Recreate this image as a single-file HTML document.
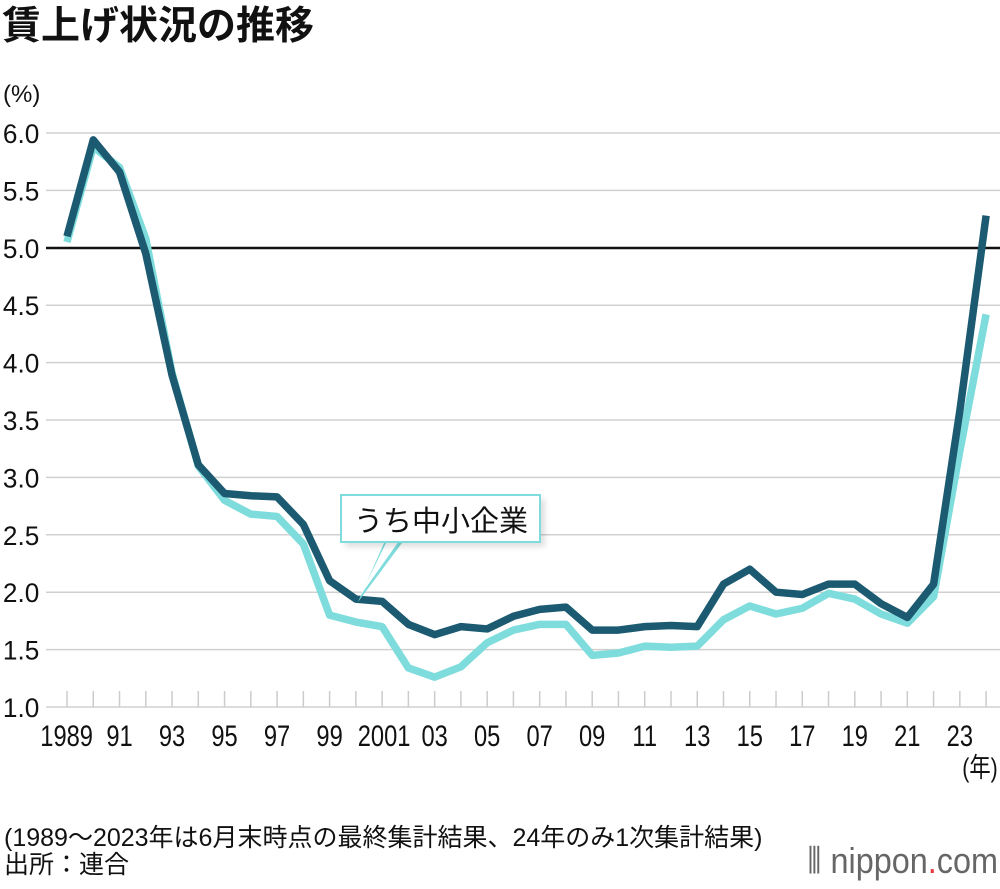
<!DOCTYPE html><html><head><meta charset="utf-8"><style>
body{margin:0;background:#fff;font-family:"Liberation Sans","Noto Sans CJK JP",sans-serif}
</style></head><body>
<svg width="1000" height="884" xmlns="http://www.w3.org/2000/svg" font-family="Liberation Sans, Noto Sans CJK JP, sans-serif">
<defs><filter id="b"><feGaussianBlur stdDeviation="3"/></filter></defs>
<text x="2" y="39" font-size="39" font-weight="bold" fill="#111">賃上げ状況の推移</text>
<text x="3" y="102" font-size="24" fill="#111">(%)</text>
<g id="grid" stroke="#d0d0d0" stroke-width="1.5"></g>
<g id="ylab" font-size="27" fill="#111"></g>
<g id="xt" stroke="#ccc" stroke-width="1.5"></g>
<line x1="46" y1="248" x2="1000" y2="248" stroke="#111" stroke-width="2.5"/>
<polyline id="lt" fill="none" stroke="#7fdcdc" stroke-width="7.5" stroke-linejoin="round"/>
<polyline id="dk" fill="none" stroke="#1b5a70" stroke-width="7.5" stroke-linejoin="round"/>
<g font-size="30" fill="#111" transform="scale(0.79,1)">
<text x="51" y="746">1989</text>
<text x="1263" y="777" text-anchor="end" font-size="27">(年)</text>
</g>
<g id="xlab" font-size="30" fill="#111" text-anchor="middle"></g>
<polygon points="384,543 402,543 358,602" fill="#7fdcdc"/>
<polygon points="387,541 399,541 360,596" fill="#fff"/>
<rect x="345" y="499" width="200" height="48" fill="#000" opacity="0.12" filter="url(#b)"/>
<rect x="341" y="495" width="199" height="47" fill="#fff" stroke="#7fdcdc" stroke-width="2"/>
<text x="441" y="531" font-size="29" text-anchor="middle" fill="#111">うち中小企業</text>
<g font-size="25" fill="#111">
<text x="4" y="846">(1989〜2023年は6月末時点の最終集計結果、24年のみ1次集計結果)</text>
<text x="4" y="873">出所：連合</text>
</g>
<text x="998" y="873" font-size="36" text-anchor="end" fill="#666" transform="translate(998,0) scale(0.9,1) translate(-998,0)">⦀ nippon<tspan fill="#e8383d">.</tspan>com</text>
</svg>
<script>
var ns="http://www.w3.org/2000/svg";
function Y(v){return 707-(v-1)*114.8}
function X(i){return 67+i*26.26}
var g=document.getElementById('grid'),yl=document.getElementById('ylab');
for(var v=1;v<=6.001;v+=0.5){var l=document.createElementNS(ns,'line');l.setAttribute('x1',46);l.setAttribute('x2',1000);l.setAttribute('y1',Y(v));l.setAttribute('y2',Y(v));g.appendChild(l);
var t=document.createElementNS(ns,'text');t.setAttribute('x',3);t.setAttribute('y',Y(v)+10);t.setAttribute('transform','scale(0.97,1)');t.textContent=v.toFixed(1);yl.appendChild(t);}
var xt=document.getElementById('xt');
for(var i=0;i<36;i++){var l=document.createElementNS(ns,'line');l.setAttribute('x1',X(i));l.setAttribute('x2',X(i));l.setAttribute('y1',691);l.setAttribute('y2',707);xt.appendChild(l);}
var xl=document.getElementById('xlab');
var labs=["91","93","95","97","99","2001","03","05","07","09","11","13","15","17","19","21","23"];
for(var k=0;k<labs.length;k++){var t=document.createElementNS(ns,'text');var i=2+2*k;var cx=X(i)+(k==5?2:0);t.setAttribute('x',cx);t.setAttribute('y',746);t.setAttribute('transform','translate('+cx+',0) scale(0.79,1) translate('+(-cx)+',0)');t.textContent=labs[k];xl.appendChild(t);}
var d=[5.10,5.94,5.66,4.95,3.89,3.11,2.86,2.84,2.83,2.59,2.10,1.94,1.92,1.72,1.63,1.70,1.68,1.79,1.85,1.87,1.67,1.67,1.70,1.71,1.70,2.07,2.20,2.00,1.98,2.07,2.07,1.90,1.78,2.07,3.58,5.28];
var s=[5.05,5.88,5.70,5.08,3.91,3.10,2.80,2.68,2.66,2.42,1.80,1.74,1.70,1.34,1.26,1.35,1.56,1.67,1.72,1.72,1.45,1.47,1.53,1.52,1.53,1.76,1.88,1.81,1.86,1.99,1.94,1.81,1.73,1.96,3.23,4.42];
function pts(a){return a.map(function(v,i){return X(i)+','+Y(v)}).join(' ')}
document.getElementById('dk').setAttribute('points',pts(d));
document.getElementById('lt').setAttribute('points',pts(s));
</script>
</body></html>
